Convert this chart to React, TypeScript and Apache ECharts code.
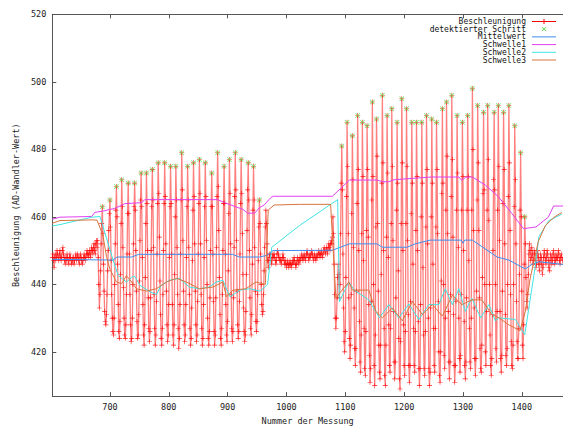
import React, { useEffect, useRef } from "react";
import * as echarts from "echarts";

// first measurement number of the acceleration series
const START = 602;

// Beschleunigung, one value per measurement (rows of 10)
const beschleunigung: number[] = [
  448, 449, 447, 445, 448, 449, 447, 448, 450, 449,
  448, 447, 449, 450, 448, 447, 448, 450, 451, 449,
  448, 447, 446, 448, 447, 449, 448, 447, 446, 448,
  449, 448, 447, 446, 447, 448, 448, 446, 447, 448,
  449, 447, 448, 449, 448, 447, 446, 448, 449, 448,
  447, 446, 447, 448, 449, 448, 447, 448, 449, 450,
  449, 448, 449, 450, 449, 448, 450, 451, 450, 449,
  451, 452, 450, 449, 452, 453, 451, 453, 448, 440,
  433, 437, 444, 452, 458, 463, 455, 446, 438, 432,
  429, 428, 431, 437, 444, 450, 456, 461, 465, 457,
  447, 437, 430, 426, 425, 430, 440, 452, 462, 469,
  460, 446, 434, 426, 424, 429, 443, 458, 471, 463,
  451, 439, 430, 425, 424, 428, 437, 449, 461, 470,
  461, 449, 437, 428, 423, 424, 430, 440, 452, 463,
  470, 462, 450, 438, 429, 424, 425, 431, 441, 453,
  465, 473, 463, 448, 434, 425, 422, 428, 442, 458,
  473, 464, 450, 436, 427, 423, 426, 436, 450, 463,
  474, 465, 451, 437, 427, 422, 425, 435, 449, 464,
  476, 467, 454, 441, 431, 424, 422, 427, 437, 450,
  464, 476, 466, 452, 438, 428, 423, 425, 434, 448,
  463, 475, 464, 449, 434, 425, 422, 428, 443, 460,
  475, 465, 451, 437, 427, 421, 424, 434, 449, 465,
  479, 468, 453, 438, 428, 423, 425, 434, 448, 463,
  475, 465, 451, 437, 427, 422, 424, 433, 447, 462,
  476, 466, 452, 438, 428, 423, 425, 435, 449, 464,
  477, 467, 452, 437, 427, 422, 424, 434, 448, 463,
  476, 466, 453, 440, 430, 424, 422, 426, 436, 450,
  463, 473, 463, 449, 435, 426, 422, 425, 436, 451,
  466, 479, 469, 456, 442, 431, 424, 422, 427, 437,
  450, 464, 475, 464, 449, 434, 425, 423, 429, 444,
  461, 477, 467, 452, 437, 427, 423, 426, 436, 451,
  466, 479, 468, 453, 438, 428, 424, 426, 435, 449,
  464, 477, 467, 455, 443, 433, 426, 423, 425, 432,
  443, 456, 468, 476, 465, 450, 436, 427, 425, 431,
  446, 462, 475, 465, 451, 438, 429, 426, 429, 437,
  447, 457, 465, 458, 449, 440, 434, 431, 432, 437,
  444, 451, 457, 462, 458, 452, 447, 445, 447, 449,
  448, 449, 447, 446, 448, 449, 448, 449, 448, 447,
  446, 447, 449, 450, 449, 448, 447, 448, 447, 446,
  447, 448, 449, 448, 447, 446, 447, 446, 445, 446,
  447, 446, 445, 446, 447, 446, 445, 446, 447, 446,
  447, 448, 447, 446, 445, 446, 447, 448, 447, 446,
  447, 448, 447, 448, 449, 448, 447, 448, 449, 448,
  447, 448, 449, 450, 449, 448, 447, 448, 449, 448,
  449, 450, 449, 448, 447, 448, 449, 448, 447, 448,
  449, 448, 449, 450, 449, 448, 449, 450, 449, 448,
  449, 450, 451, 450, 449, 450, 451, 450, 449, 451,
  452, 451, 450, 452, 453, 452, 454, 460, 455, 446,
  437, 430, 427, 430, 436, 442, 446, 443, 436, 440,
  455, 470, 481, 468, 449, 433, 423, 420, 426, 442,
  466, 488, 475, 455, 436, 424, 418, 422, 437, 461,
  484, 471, 451, 433, 421, 416, 421, 438, 464, 490,
  474, 450, 429, 417, 414, 425, 455, 488, 472, 447,
  427, 415, 413, 426, 456, 487, 474, 454, 434, 419,
  411, 415, 435, 465, 494, 472, 440, 416, 410, 425,
  457, 489, 478, 458, 438, 422, 414, 412, 422, 443,
  470, 496, 476, 450, 427, 413, 410, 422, 454, 490,
  473, 448, 428, 416, 414, 427, 458, 492, 475, 453,
  432, 417, 412, 417, 436, 462, 488, 470, 444, 424,
  412, 409, 423, 458, 495, 476, 450, 428, 416, 413,
  426, 458, 492, 475, 453, 431, 416, 411, 416, 435,
  461, 488, 470, 446, 427, 416, 414, 426, 456, 488,
  472, 450, 429, 415, 410, 415, 434, 460, 488, 470,
  445, 425, 415, 413, 426, 457, 490, 474, 452, 430,
  415, 410, 414, 433, 460, 489, 470, 446, 427, 416,
  414, 427, 457, 488, 474, 455, 435, 420, 413, 411,
  420, 441, 467, 492, 470, 440, 419, 415, 430, 462,
  494, 478, 455, 432, 417, 412, 417, 437, 466, 496,
  477, 454, 431, 416, 411, 416, 435, 462, 490, 473,
  451, 430, 418, 414, 419, 437, 462, 488, 472, 450,
  429, 416, 412, 417, 436, 462, 490, 472, 447, 427,
  417, 415, 430, 462, 498, 480, 456, 433, 418, 413,
  418, 438, 465, 493, 476, 456, 436, 421, 415, 414,
  422, 442, 467, 491, 468, 440, 420, 416, 432, 462,
  493, 477, 459, 440, 425, 416, 413, 418, 431, 450,
  471, 491, 468, 440, 421, 417, 432, 462, 493, 475,
  453, 432, 418, 414, 419, 438, 464, 491, 474, 452,
  431, 419, 416, 421, 440, 466, 493, 476, 456, 437,
  423, 416, 415, 422, 440, 463, 487, 471, 452, 435,
  423, 418, 418, 427, 443, 462, 479, 460, 438, 422,
  418, 428, 446, 460, 452, 442, 435, 433, 437, 443,
  449, 452, 450, 447, 448, 451, 449, 446, 447, 450,
  449, 447, 445, 446, 449, 450, 448, 446, 444, 447,
  449, 448, 446, 443, 445, 448, 450, 449, 447, 446,
  448, 450, 449, 447, 445, 444, 447, 449, 448, 446,
  447, 449, 450, 448, 446, 447, 449, 448, 447, 448,
  450, 449, 447, 446, 448, 449, 448, 447,
];

// measurement numbers of the detected steps
const schrittIdx: number[] = [
  687, 700, 711, 720, 731, 742, 753, 762, 772, 782, 793, 803, 812, 822, 832, 842, 852, 862,
  873, 883, 894, 903, 913, 923, 935, 944, 954,
  1094, 1103, 1112, 1121, 1129, 1137, 1146, 1153, 1163, 1171, 1179, 1188, 1196, 1204, 1213,
  1221, 1230, 1238, 1247, 1255, 1265, 1272, 1281, 1290, 1299, 1308, 1316, 1325, 1335, 1342,
  1353, 1360, 1369, 1378, 1388, 1398, 1405,
];

const mittelwert: number[][] = [
  [602, 447.4], [705, 447.2], [712, 448.1], [737, 448.1], [749, 448.9], [908, 448.9], [920, 448.1],
  [954, 448.1], [967, 448.6], [977, 450.0], [1078, 450.1], [1107, 452.0], [1154, 452.0], [1163, 451.0],
  [1205, 451.0], [1219, 452.0], [1244, 453.1], [1297, 453.1], [1300, 452.2], [1303, 453.1], [1316, 453.1],
  [1332, 451.2], [1358, 448.1], [1378, 447.2], [1398, 445.3], [1406, 444.6], [1417, 445.9], [1429, 446.7],
  [1470, 445.9],
];

const schwelle1: number[][] = [
  [602, 459.3], [615, 459.9], [669, 460.1], [674, 461.3], [688, 461.7], [708, 462.5], [717, 463.2],
  [725, 463.9], [754, 464.2], [759, 465.1], [883, 465.1], [895, 464.2], [926, 462.2], [934, 461.1],
  [946, 461.1], [954, 462.7], [962, 463.5], [974, 465.8], [978, 466.1], [1078, 466.1], [1107, 470.9],
  [1154, 470.9], [1163, 470.4], [1174, 470.4], [1183, 471.0], [1246, 471.8], [1293, 471.8], [1298, 470.8],
  [1305, 471.8], [1316, 471.8], [1338, 469.4], [1360, 466.0], [1383, 461.0], [1403, 456.5], [1424, 457.0],
  [1445, 459.9], [1454, 463.2], [1470, 463.2],
];

const schwelle2: number[][] = [
  [602, 457.3], [615, 457.7], [669, 459.9], [683, 460.1], [705, 447.4], [714, 442.6], [728, 440.7],
  [737, 442.1], [742, 442.4], [751, 439.7], [768, 437.8], [779, 437.0], [787, 439.7], [801, 441.2],
  [818, 441.8], [835, 439.2], [852, 438.7], [868, 439.2], [881, 440.7], [892, 441.2], [904, 436.3],
  [921, 438.3], [938, 438.7], [955, 438.0], [968, 440.0], [975, 451.0], [1022, 457.4], [1087, 465.1],
  [1090, 434.9], [1106, 440.7], [1115, 438.3], [1140, 435.4], [1158, 430.1], [1174, 434.0], [1191, 430.1],
  [1208, 434.2], [1225, 429.6], [1242, 434.0], [1259, 434.0], [1270, 438.7], [1282, 434.0], [1293, 438.7],
  [1304, 432.0], [1315, 435.9], [1330, 430.1], [1344, 434.0], [1355, 429.2], [1361, 430.1], [1389, 429.6],
  [1405, 425.1], [1423, 445.5], [1429, 454.1], [1446, 458.9], [1468, 460.8],
];

const schwelle3: number[][] = [
  [602, 458.1], [615, 458.9], [671, 459.1], [678, 459.0], [688, 454.6], [694, 448.3], [700, 444.5],
  [711, 440.7], [720, 440.2], [728, 442.6], [737, 440.7], [745, 438.7], [762, 438.0], [779, 438.7],
  [796, 440.7], [813, 441.8], [830, 440.7], [852, 438.7], [875, 439.2], [892, 440.7], [898, 436.3],
  [909, 438.3], [931, 438.7], [948, 440.7], [964, 440.0], [969, 462.0], [979, 463.5], [1022, 463.7],
  [1075, 463.7], [1084, 435.9], [1092, 437.8], [1106, 440.7], [1112, 438.3], [1140, 438.3], [1152, 432.0],
  [1163, 430.1], [1180, 433.0], [1197, 429.2], [1214, 434.9], [1231, 431.1], [1248, 434.0], [1265, 430.6],
  [1282, 436.8], [1298, 434.0], [1315, 435.4], [1332, 435.4], [1349, 431.1], [1361, 430.1], [1378, 428.0],
  [1397, 426.3], [1406, 432.0], [1414, 441.6], [1428, 452.7], [1440, 457.4], [1455, 459.9], [1468, 461.3],
];

const xTicks = [700, 800, 900, 1000, 1100, 1200, 1300, 1400];
const yTicks = [420, 440, 460, 480, 500, 520];
const legendNames = [
  "Beschleunigung",
  "detektierter Schritt",
  "Mittelwert",
  "Schwelle1",
  "Schwelle2",
  "Schwelle3",
];
const seriesColors = ["#ff0000", "#55dd44", "#3d8ef0", "#e040f0", "#40e4e4", "#d8743c"];

const FONT = '"DejaVu Sans Mono", monospace';
const PLUS = "path://M4.4,0H5.6V4.4H10V5.6H5.6V10H4.4V5.6H0V4.4H4.4Z";
const CROSS = "path://M0,1L1,0L5,4L9,0L10,1L6,5L10,9L9,10L5,6L1,10L0,9L4,5Z";

export default function App() {
  const ref = useRef<HTMLDivElement>(null);
  useEffect(() => {
    if (!ref.current) return;
    const chart = echarts.init(ref.current, null, { renderer: "svg" });
    const accelData = beschleunigung.map((v, i) => [START + i, v]);
    const stepData = schrittIdx.map((x) => [x, beschleunigung[x - START]]);

    const legend: any[] = [];
    legendNames.forEach((name, i) => {
      const y = 21.5 + i * 7.7;
      legend.push({
        type: "text",
        x: 526,
        y,
        silent: true,
        style: { text: name, fill: "#111", font: `8px ${FONT}`, align: "right", verticalAlign: "middle" },
      });
      if (i === 1) {
        legend.push({ type: "line", silent: true, shape: { x1: 542, y1: y - 2, x2: 546, y2: y + 2 }, style: { stroke: seriesColors[i], lineWidth: 1 } });
        legend.push({ type: "line", silent: true, shape: { x1: 542, y1: y + 2, x2: 546, y2: y - 2 }, style: { stroke: seriesColors[i], lineWidth: 1 } });
      } else {
        legend.push({ type: "line", silent: true, shape: { x1: 532, y1: y, x2: 556, y2: y }, style: { stroke: seriesColors[i], lineWidth: 1 } });
        if (i === 0) {
          legend.push({ type: "line", silent: true, shape: { x1: 544, y1: y - 2.5, x2: 544, y2: y + 2.5 }, style: { stroke: seriesColors[i], lineWidth: 1 } });
        }
      }
    });

    const axisCommon = {
      type: "value" as const,
      axisLine: { show: true, onZero: false, lineStyle: { color: "#555", width: 1 } },
      splitLine: { show: false },
    };
    const labelFmt = (v: number) => String(v);

    chart.setOption({
      animation: false,
      backgroundColor: "#fff",
      grid: { left: 52.3, top: 14.3, width: 512.5, height: 393.4 },
      xAxis: [
        {
          ...axisCommon,
          position: "bottom",
          min: 602,
          max: 1470,
          axisTick: { show: true, inside: true, length: 4, customValues: xTicks, lineStyle: { color: "#555" } },
          axisLabel: { customValues: xTicks, formatter: labelFmt, margin: 6, fontFamily: FONT, fontSize: 8.5, color: "#222" },
          name: "Nummer der Messung",
          nameLocation: "middle",
          nameGap: 19,
          nameTextStyle: { fontFamily: FONT, fontSize: 8.5, color: "#222" },
        },
        {
          ...axisCommon,
          position: "top",
          min: 602,
          max: 1470,
          axisTick: { show: true, inside: true, length: 4, customValues: xTicks, lineStyle: { color: "#555" } },
          axisLabel: { show: false },
        },
      ],
      yAxis: {
        ...axisCommon,
        min: 406.9,
        max: 520,
        axisTick: { show: true, inside: true, length: 4, customValues: yTicks, lineStyle: { color: "#555" } },
        axisLabel: { customValues: yTicks, formatter: labelFmt, margin: 6, fontFamily: FONT, fontSize: 8.5, color: "#222" },
        name: "Beschleunigung (AD-Wandler-Wert)",
        nameLocation: "middle",
        nameRotate: 90,
        nameGap: 32,
        nameTextStyle: { fontFamily: FONT, fontSize: 8.5, color: "#222" },
      },
      series: [
        {
          name: legendNames[0],
          type: "line",
          data: accelData,
          silent: true,
          symbol: PLUS,
          symbolSize: 5,
          showSymbol: true,
          showAllSymbol: true,
          itemStyle: { color: seriesColors[0], opacity: 0.9 },
          lineStyle: { color: seriesColors[0], width: 1.3, opacity: 0.5 },
          z: 2,
        },
        {
          name: legendNames[1],
          type: "scatter",
          data: stepData,
          silent: true,
          symbol: CROSS,
          symbolSize: 5,
          itemStyle: { color: seriesColors[1], opacity: 0.85 },
          z: 3,
        },
        ...[mittelwert, schwelle1, schwelle2, schwelle3].map((d, k) => ({
          name: legendNames[k + 2],
          type: "line",
          data: d,
          silent: true,
          showSymbol: false,
          symbol: "none",
          lineStyle: { color: seriesColors[k + 2], width: 1 },
          z: 4,
        })),
      ],
      graphic: legend,
    });
    return () => chart.dispose();
  }, []);
  return (
    <div
      ref={ref}
      style={{ position: "fixed", left: 0, top: 0, width: 563, height: 430, background: "#fff" }}
    />
  );
}
